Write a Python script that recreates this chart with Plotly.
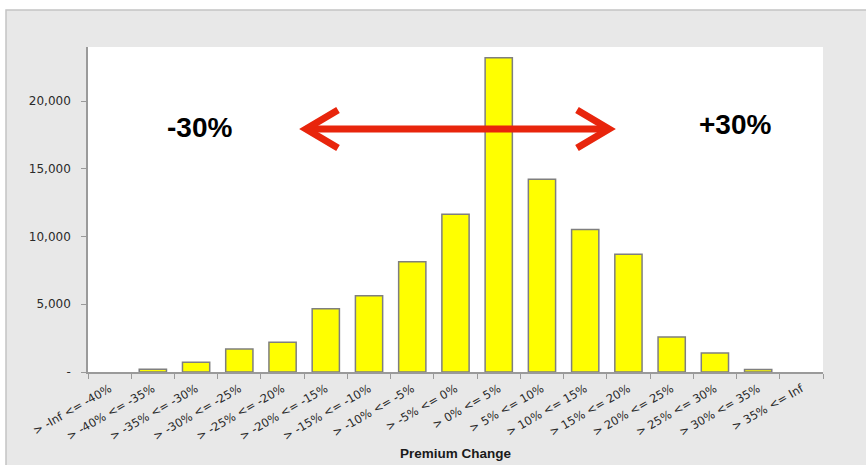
import plotly.graph_objects as go

# Distribution of policies by premium change band
bands = [
    "> -Inf <= -40%", "> -40% <= -35%", "> -35% <= -30%", "> -30% <= -25%",
    "> -25% <= -20%", "> -20% <= -15%", "> -15% <= -10%", "> -10% <= -5%",
    "> -5% <= 0%", "> 0% <= 5%", "> 5% <= 10%", "> 10% <= 15%",
    "> 15% <= 20%", "> 20% <= 25%", "> 25% <= 30%", "> 30% <= 35%",
    "> 35% <= Inf",
]
policy_counts = [0, 200, 720, 1700, 2200, 4670, 5640, 8150, 11650,
                 23200, 14230, 10530, 8700, 2590, 1400, 180, 0]

y_tick_values = [0, 5000, 10000, 15000, 20000]
y_tick_labels = ["-", "5,000", "10,000", "15,000", "20,000"]

W, H = 866, 465
L, R, T, B = 88, 43, 47, 93
PW, PH = W - L - R, H - T - B


def px_x(p):
    return (p - L) / PW


def px_y(p):
    return (H - B - p) / PH


# empty bands get no outline so they leave no sliver on the axis
outline_widths = [0 if v == 0 else 1.5 for v in policy_counts]

fig = go.Figure(
    go.Bar(
        x=bands,
        y=policy_counts,
        marker=dict(color="#ffff00", line=dict(color="#7f7f7f", width=outline_widths)),
        width=0.63,
    )
)

red = "#e8250c"
tip_l, tip_r, arrow_y = 306, 609, 129
head_len, head_half = 32, 19
shapes = [
    # chart frame
    dict(type="rect", xref="paper", yref="paper", layer="below",
         x0=px_x(6), x1=px_x(W + 10), y0=px_y(H + 10), y1=px_y(10),
         fillcolor="#e8e8e8", line=dict(color="#c4c4c4", width=1.5)),
    # plot area
    dict(type="rect", xref="paper", yref="paper", layer="below",
         x0=0, x1=1, y0=0, y1=1, fillcolor="white", line=dict(width=0)),
    # double-headed arrow
    dict(type="line", xref="paper", yref="paper",
         x0=px_x(tip_l), x1=px_x(tip_r), y0=px_y(arrow_y), y1=px_y(arrow_y),
         line=dict(color=red, width=7)),
    dict(type="path", xref="paper", yref="paper",
         path=f"M {px_x(tip_l + head_len)},{px_y(arrow_y - head_half)} "
              f"L {px_x(tip_l)},{px_y(arrow_y)} "
              f"L {px_x(tip_l + head_len)},{px_y(arrow_y + head_half)}",
         line=dict(color=red, width=7)),
    dict(type="path", xref="paper", yref="paper",
         path=f"M {px_x(tip_r - head_len)},{px_y(arrow_y - head_half)} "
              f"L {px_x(tip_r)},{px_y(arrow_y)} "
              f"L {px_x(tip_r - head_len)},{px_y(arrow_y + head_half)}",
         line=dict(color=red, width=7)),
]

annotations = [
    dict(text="-30%", xref="paper", yref="paper", x=px_x(199), y=px_y(127),
         showarrow=False, xanchor="center", yanchor="middle",
         font=dict(family="Arial", size=28, color="#000000", weight="bold")),
    dict(text="+30%", xref="paper", yref="paper", x=px_x(735), y=px_y(124),
         showarrow=False, xanchor="center", yanchor="middle",
         font=dict(family="Arial", size=28, color="#000000", weight="bold")),
    dict(text="Premium Change", xref="paper", yref="paper", x=0.5, y=px_y(453),
         showarrow=False, xanchor="center", yanchor="middle",
         font=dict(family="Arial", size=13.5, color="#1a1a1a", weight="bold")),
]

fig.update_layout(
    width=W, height=H,
    margin=dict(l=L, r=R, t=T, b=B),
    paper_bgcolor="white",
    plot_bgcolor="rgba(0,0,0,0)",
    showlegend=False,
    bargap=0.37,
    shapes=shapes,
    annotations=annotations,
    xaxis=dict(
        type="category",
        tickangle=-30,
        tickson="boundaries",
        ticks="outside", ticklen=5, tickcolor="#9a9a9a",
        showline=True, linecolor="#9a9a9a", linewidth=1.5,
        showgrid=False,
        ticklabelstandoff=4,
        tickfont=dict(family="DejaVu Sans", size=11.5, color="#2a2a2a"),
    ),
    yaxis=dict(
        range=[0, 24000],
        tickvals=y_tick_values, ticktext=y_tick_labels,
        ticks="outside", ticklen=5, tickcolor="#9a9a9a",
        showline=True, linecolor="#9a9a9a", linewidth=1.5,
        showgrid=False, zeroline=False,
        ticklabelstandoff=8,
        tickfont=dict(family="DejaVu Sans", size=12, color="#2a2a2a"),
    ),
)

fig.write_html("out.html")
